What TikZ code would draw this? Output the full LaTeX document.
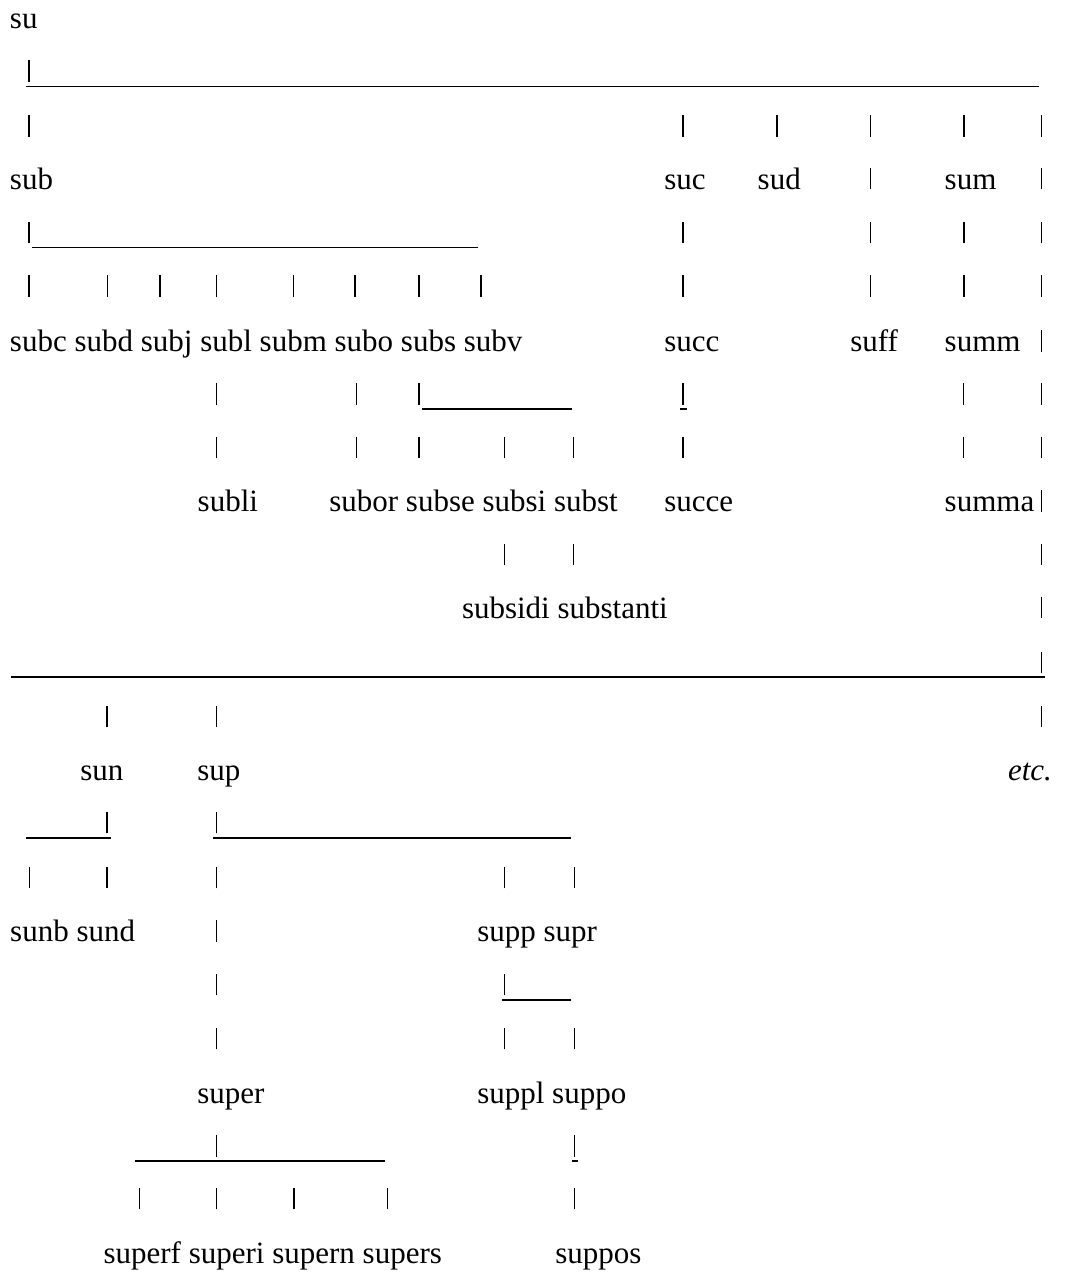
\documentclass[tikz,border=0pt]{standalone}
\usepackage{fontspec}
\setmainfont{Liberation Serif}
\usepackage{tikz}
\usetikzlibrary{positioning}

\tikzset{
  word/.style={inner sep=0pt, outer sep=0pt, anchor=base west},
  vbar/.style={line width=0.75pt},
  hrule/.style={line width=0.8pt},
}

\begin{document}
\fontsize{15.5}{18}\selectfont
\begin{tikzpicture}[x=0.5pt, y=-0.5pt, node distance=3.875pt]
  \useasboundingbox (0,0) rectangle (1080,1272);

  % root
  \node[word] (su) at (10,28.3) {su};
  \draw[vbar] (28.9,82) -- ++(0,-21.5);
  \draw[hrule] (25.8,86.5) -- (1038.6,86.5);
  \foreach \x in {28.9,683,777,870.6,964,1041.7}
    \draw[vbar] (\x,136.7) -- ++(0,-21.5);

  % second level
  \node[word] (sub) at (10,189.3) {sub};
  \node[word] (suc) at (664.4,189.3) {suc};
  \node[word] (sud) at (757.7,189.3) {sud};
  \node[word] (sum) at (944.7,189.3) {sum};
  \foreach \x in {870.6,1041.7}
    \draw[vbar] (\x,189.3) -- ++(0,-21.5);
  \foreach \x in {28.9,683,870.6,964,1041.7}
    \draw[vbar] (\x,243.3) -- ++(0,-21.5);
  \draw[hrule] (32,247.7) -- (478,247.7);
  \foreach \x in {28.9,107.4,159.8,216.3,293.7,355,419,481,683,870.6,964,1041.7}
    \draw[vbar] (\x,296.7) -- ++(0,-21.5);

  % third level
  \node[word] (subc) at (10,351.7) {subc};
  \node[word, base right=of subc] (subd) {subd};
  \node[word, base right=of subd] (subj) {subj};
  \node[word, base right=of subj] (subl) {subl};
  \node[word, base right=of subl] (subm) {subm};
  \node[word, base right=of subm] (subo) {subo};
  \node[word, base right=of subo] (subs) {subs};
  \node[word, base right=of subs] (subv) {subv};
  \node[word] (succ) at (664.4,351.7) {succ};
  \node[word] (suff) at (850.3,351.7) {suff};
  \node[word] (summ) at (944.7,351.7) {summ};
  \draw[vbar] (1041.7,351.7) -- ++(0,-21.5);
  \foreach \x in {216.3,356.7,419,683,963.6,1041.7}
    \draw[vbar] (\x,405) -- ++(0,-21.5);
  \draw[hrule] (421.8,408.8) -- (571.7,408.8);
  \draw[hrule] (680,408.8) -- (686.7,408.8);
  \foreach \x in {216.3,356.7,419,504.5,573.7,683,963.6,1041.7}
    \draw[vbar] (\x,458.3) -- ++(0,-21.5);

  % fourth level
  \node[word] (subli) at (197.7,511.7) {subli};
  \node[word] (subor) at (329.3,511.7) {subor};
  \node[word, base right=of subor] (subse) {subse};
  \node[word, base right=of subse] (subsi) {subsi};
  \node[word, base right=of subsi] (subst) {subst};
  \node[word] (succe) at (664.4,511.7) {succe};
  \node[word] (summa) at (944.7,511.7) {summa};
  \draw[vbar] (1041.7,511.7) -- ++(0,-21.5);
  \foreach \x in {504.5,573.7,1041.7}
    \draw[vbar] (\x,565) -- ++(0,-21.5);
  \node[word] (subsidi) at (462,618) {subsidi};
  \node[word, base right=of subsidi] (substanti) {substanti};
  \draw[vbar] (1041.7,618) -- ++(0,-21.5);

  % back to the root
  \draw[vbar] (1041.7,673.3) -- ++(0,-21.5);
  \draw[hrule] (11.2,676.7) -- (1044.5,676.7);
  \foreach \x in {107.1,216.5,1041.7}
    \draw[vbar] (\x,727.3) -- ++(0,-21.5);
  \node[word] (sun) at (80.4,780) {sun};
  \node[word] (sup) at (197.4,780) {sup};
  \node[word] (etc) at (1008,780) {\itshape etc.};

  % under sun and sup
  \foreach \x in {107.1,216.5}
    \draw[vbar] (\x,833.3) -- ++(0,-21.5);
  \draw[hrule] (25.9,837.7) -- (110.7,837.7);
  \draw[hrule] (213.4,837.7) -- (571.4,837.7);
  \foreach \x in {29.5,107.1,216.5,504.5,574.6}
    \draw[vbar] (\x,888.3) -- ++(0,-21.5);
  \node[word] (sunb) at (10.2,941.7) {sunb};
  \node[word, base right=of sunb] (sund) {sund};
  \draw[vbar] (216.5,941.7) -- ++(0,-21.5);
  \node[word] (supp) at (477.3,941.7) {supp};
  \node[word, base right=of supp] (supr) {supr};
  \foreach \x in {216.5,504.5}
    \draw[vbar] (\x,995) -- ++(0,-21.5);
  \draw[hrule] (502,1000) -- (571.4,1000);
  \foreach \x in {216.5,504.5,574.6}
    \draw[vbar] (\x,1049.3) -- ++(0,-21.5);

  % super and supp
  \node[word] (super) at (197.4,1103.3) {super};
  \node[word] (suppl) at (477.3,1103.3) {suppl};
  \node[word, base right=of suppl] (suppo) {suppo};
  \foreach \x in {216.5,574.6}
    \draw[vbar] (\x,1156.7) -- ++(0,-21.5);
  \draw[hrule] (134.8,1161) -- (384.8,1161);
  \draw[hrule] (572,1161) -- (578,1161);
  \foreach \x in {139.3,216.5,293.8,387.5,574.6}
    \draw[vbar] (\x,1209.3) -- ++(0,-21.5);
  \node[word] (superf) at (103.6,1263.3) {superf};
  \node[word, base right=of superf] (superi) {superi};
  \node[word, base right=of superi] (supern) {supern};
  \node[word, base right=of supern] (supers) {supers};
  \node[word] (suppos) at (555.4,1263.3) {suppos};
\end{tikzpicture}
\end{document}
